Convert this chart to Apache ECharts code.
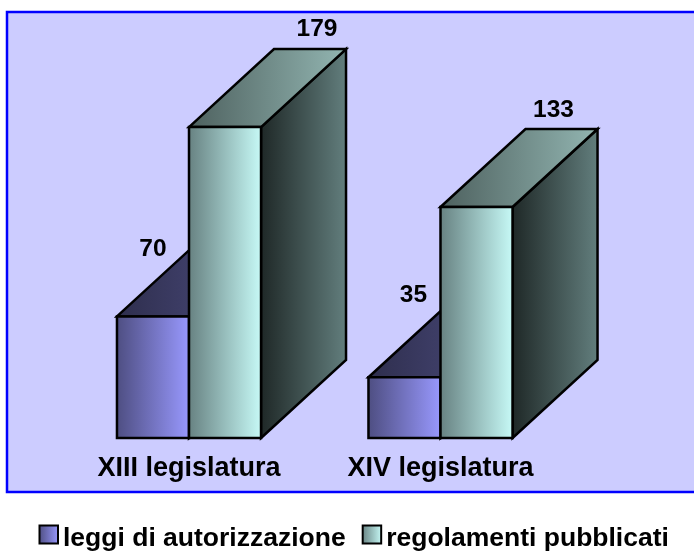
<!DOCTYPE html>
<html>
<head>
<meta charset="utf-8">
<style>html,body{margin:0;padding:0;background:#fff;overflow:hidden}#c{width:694px;height:551px}</style>
<script src="https://cdn.jsdelivr.net/npm/echarts@6/dist/echarts.min.js"></script>
</head>
<body>
<div id="c"></div>
<script>
const categories = ['XIII legislatura', 'XIV legislatura'];
const seriesNames = ['leggi di autorizzazione', 'regolamenti pubblicati'];
const leggi = [70, 35];
const regolamenti = [179, 133];

// Styling / layout constants (not data)
const FONT = '"Liberation Sans", Arial, sans-serif';
const BAR_RATIO = 0.2864;
const DEPTH_X = 85, DEPTH_Y = 78;
const labelOffsets = [
  [[0, -67], [9, -82]],
  [[92, -98], [77, -97]]
];
const grad = (a, b) => new echarts.graphic.LinearGradient(0, 0, 1, 0, [
  { offset: 0, color: a }, { offset: 1, color: b }
]);
const palettes = [
  { front: grad('#4d4d80', '#9999ff'), top: grad('#2e2e4d', '#505085'), side: grad('#2e2e4d', '#4d4d80') },
  { front: grad('#668080', '#c8fbf8'), top: grad('#4d605e', '#93b6b2'), side: grad('#1e2726', '#637f7e') }
];

const chart = echarts.init(document.getElementById('c'), null, { renderer: 'canvas' });

function render(seriesIdx) {
  return function (params, api) {
    const cat = api.value(0), val = api.value(1);
    const base = api.coord([cat, 0]);
    const top = api.coord([cat, val]);
    const w = api.size([1, 0])[0] * BAR_RATIO;
    const x0 = base[0] + (seriesIdx - 1) * w, x1 = x0 + w;
    const y0 = base[1], y1 = top[1];
    const pal = palettes[seriesIdx];
    const line = { stroke: '#000', lineWidth: 2.5, lineJoin: 'miter' };
    const poly = (points, fill) => ({
      type: 'polygon', shape: { points }, style: Object.assign({ fill }, line)
    });
    const off = labelOffsets[seriesIdx][params.dataIndex];
    return {
      type: 'group',
      children: [
        poly([[x1, y0], [x1 + DEPTH_X, y0 - DEPTH_Y], [x1 + DEPTH_X, y1 - DEPTH_Y], [x1, y1]], pal.side),
        poly([[x0, y1], [x0 + DEPTH_X, y1 - DEPTH_Y], [x1 + DEPTH_X, y1 - DEPTH_Y], [x1, y1]], pal.top),
        poly([[x0, y0], [x1, y0], [x1, y1], [x0, y1]], pal.front),
        {
          type: 'text',
          style: {
            text: String(val),
            x: (x0 + x1) / 2 + off[0], y: y1 + off[1],
            align: 'center', verticalAlign: 'middle',
            font: 'bold 24.5px ' + FONT, fill: '#000'
          }
        }
      ]
    };
  };
}

chart.setOption({
  animation: false,
  backgroundColor: '#ffffff',
  graphic: [{
    type: 'rect', z: -10, silent: true,
    shape: { x: 7, y: 12, width: 720, height: 480 },
    style: { fill: '#ccccff', stroke: '#0000ff', lineWidth: 2.5 }
  }],
  grid: { left: 63.25, width: 503, top: 90.6, height: 347.4, containLabel: false },
  xAxis: {
    type: 'category', data: categories,
    axisLine: { show: false }, axisTick: { show: false }, splitLine: { show: false },
    axisLabel: { fontFamily: FONT, fontWeight: 'bold', fontSize: 27, color: '#000', margin: 17.5 }
  },
  yAxis: { type: 'value', min: 0, max: 200, show: false },
  legend: {
    left: 38.5, top: 524.5, padding: 0, itemWidth: 18.5, itemHeight: 18, itemGap: 16,
    icon: 'rect',
    formatter: '{a|{name}}',
    textStyle: {
      color: '#000',
      rich: { a: { fontFamily: FONT, fontWeight: 'bold', fontSize: 26.5, color: '#000', padding: [8, 0, 0, 0] } }
    },
    data: seriesNames
  },
  series: [
    {
      name: seriesNames[0], type: 'custom', renderItem: render(0),
      data: leggi.map((v, i) => [i, v]), encode: { x: 0, y: 1 },
      itemStyle: { color: palettes[0].front, borderColor: '#000', borderWidth: 2.5 }
    },
    {
      name: seriesNames[1], type: 'custom', renderItem: render(1),
      data: regolamenti.map((v, i) => [i, v]), encode: { x: 0, y: 1 },
      itemStyle: { color: palettes[1].front, borderColor: '#000', borderWidth: 2.5 }
    }
  ]
});
</script>
</body>
</html>
